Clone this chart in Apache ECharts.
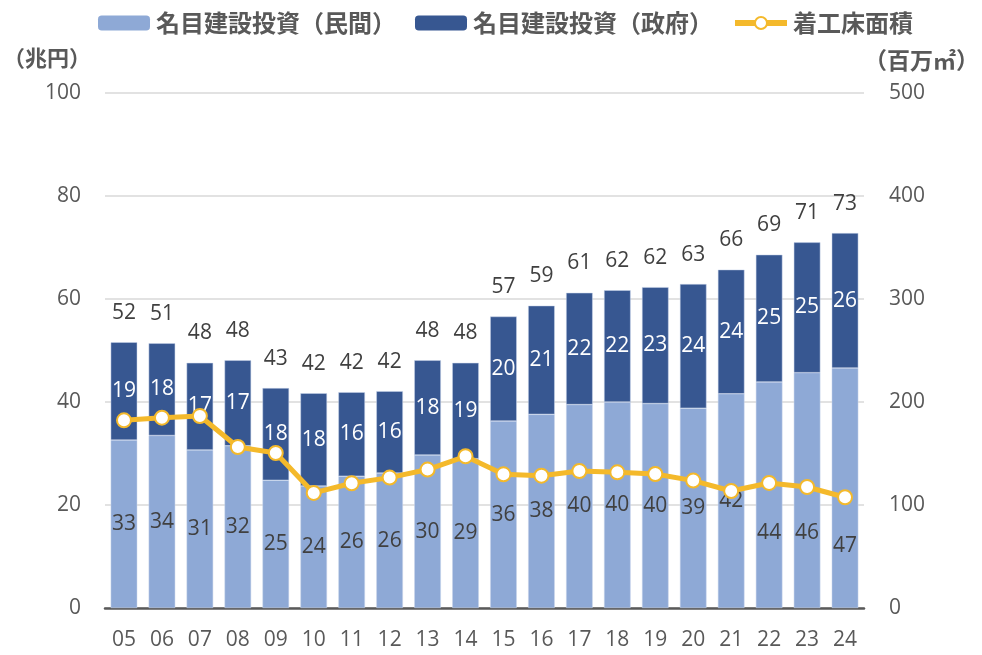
<!DOCTYPE html>
<html>
<head>
<meta charset="utf-8">
<script src="https://cdn.jsdelivr.net/npm/echarts@6/dist/echarts.min.js"></script>
<style>
  html, body { margin: 0; padding: 0; background: #fff; }
  #main { width: 982px; height: 655px; }
</style>
</head>
<body>
<div id="main"></div>
<script>
// 年度（2005〜2024）
var years = ['05', '06', '07', '08', '09', '10', '11', '12', '13', '14',
    '15', '16', '17', '18', '19', '20', '21', '22', '23', '24'];

// 名目建設投資（民間） 兆円
var privateInv = [32.6, 33.5, 30.7, 31.5, 24.8, 23.7, 25.6, 26.2, 29.7, 29.0,
    36.3, 37.6, 39.5, 40.0, 39.7, 38.8, 41.6, 43.9, 45.7, 46.6];

// 名目建設投資（政府） 兆円
var govInv = [19.0, 17.9, 16.9, 16.6, 17.9, 18.0, 16.3, 15.9, 18.4, 18.6,
    20.3, 21.1, 21.7, 21.7, 22.6, 24.1, 24.1, 24.7, 25.3, 26.2];

// 着工床面積 百万㎡
var floorArea = [182.2, 184.8, 186.4, 156.3, 150.5, 111.7, 121.1, 126.6, 134.4, 147.3,
    129.8, 128.5, 133.0, 131.7, 130.1, 123.7, 113.6, 121.4, 117.5, 107.5];

var totals = privateInv.map(function (v, i) {
    return +(v + govInv[i]).toFixed(1);
});

// 折れ線と重なるラベルを下へずらす（px）
var labelShift = { 17: 38, 18: 43, 19: 58 };

var FONT = "'Open Sans', 'Noto Sans CJK JP', sans-serif";
var CJK = "'Noto Sans CJK JP', sans-serif";
var GRAY = '#595959';
var YELLOW = '#f4b92b';

var myChart = echarts.init(document.getElementById('main'));

var option = {
    animation: false,
    textStyle: { fontFamily: FONT },
    legend: {
        top: 6,
        left: 93,
        itemWidth: 52,
        itemHeight: 15,
        itemGap: 19,
        data: [
            { name: '名目建設投資（民間）', itemStyle: { borderWidth: 0 } },
            { name: '名目建設投資（政府）', itemStyle: { borderWidth: 0 } },
            {
                name: '着工床面積',
                lineStyle: { width: 6, color: YELLOW },
                itemStyle: { color: '#ffffff', borderColor: YELLOW, borderWidth: 2 }
            }
        ],
        textStyle: {
            fontFamily: CJK,
            fontSize: 24,
            fontWeight: 'bold',
            color: GRAY,
            padding: [0, 0, 0, 1]
        }
    },
    grid: {
        left: 101,
        right: 116,
        top: 93,
        bottom: 47
    },
    xAxis: {
        type: 'category',
        data: years,
        axisTick: { show: false },
        axisLine: { lineStyle: { color: '#595959', width: 2.5 } },
        axisLabel: {
            color: GRAY,
            fontSize: 21,
            margin: 22
        }
    },
    yAxis: [
        {
            type: 'value',
            min: 0,
            max: 100,
            interval: 20,
            name: '（兆円）',
            nameLocation: 'end',
            nameGap: 24,
            nameTextStyle: {
                fontFamily: CJK,
                fontSize: 22,
                fontWeight: 'bold',
                color: GRAY,
                align: 'right',
                padding: [0, 14, 0, 0]
            },
            axisLine: { show: false },
            axisTick: { show: false },
            axisLabel: { color: GRAY, fontSize: 21, margin: 24 },
            splitLine: { lineStyle: { color: '#d9d9d9', width: 1.5 } }
        },
        {
            type: 'value',
            min: 0,
            max: 500,
            interval: 100,
            name: '（百万㎡）',
            nameLocation: 'end',
            nameGap: 21,
            nameTextStyle: {
                fontFamily: CJK,
                fontSize: 23,
                fontWeight: 'bold',
                color: GRAY,
                align: 'left',
                padding: [0, 0, 0, 0]
            },
            axisLine: { show: false },
            axisTick: { show: false },
            axisLabel: { color: GRAY, fontSize: 21, margin: 25 },
            splitLine: { show: false }
        }
    ],
    series: [
        {
            name: '名目建設投資（民間）',
            type: 'bar',
            stack: 'inv',
            barWidth: '70%',
            itemStyle: { color: '#8ea9d6', borderColor: '#c9d5ea', borderWidth: 0.5 },
            label: {
                show: true,
                position: 'inside',
                color: '#404040',
                fontSize: 21,
                formatter: function (p) { return Math.round(p.value); }
            },
            data: privateInv.map(function (v, i) {
                if (labelShift[i]) {
                    return { value: v, label: { offset: [0, labelShift[i]] } };
                }
                return v;
            })
        },
        {
            name: '名目建設投資（政府）',
            type: 'bar',
            stack: 'inv',
            itemStyle: { color: '#375791', borderColor: '#c9d5ea', borderWidth: 0.5 },
            label: {
                show: true,
                position: 'inside',
                color: '#ffffff',
                fontSize: 21,
                formatter: function (p) { return Math.round(p.value); }
            },
            data: govInv
        },
        {
            // 合計ラベル用（高さ0のバー）
            name: '合計',
            type: 'bar',
            stack: 'inv',
            itemStyle: { color: 'transparent' },
            label: {
                show: true,
                position: 'top',
                distance: 19,
                color: '#404040',
                fontSize: 21,
                formatter: function (p) { return Math.round(totals[p.dataIndex]); }
            },
            data: totals.map(function () { return 0; })
        },
        {
            name: '着工床面積',
            type: 'line',
            yAxisIndex: 1,
            symbol: 'circle',
            symbolSize: 14,
            z: 5,
            lineStyle: { color: YELLOW, width: 5 },
            itemStyle: { color: '#ffffff', borderColor: YELLOW, borderWidth: 2 },
            data: floorArea
        }
    ]
};

myChart.setOption(option);

window.addEventListener('resize', function () {
    myChart.resize();
});
</script>
</body>
</html>
